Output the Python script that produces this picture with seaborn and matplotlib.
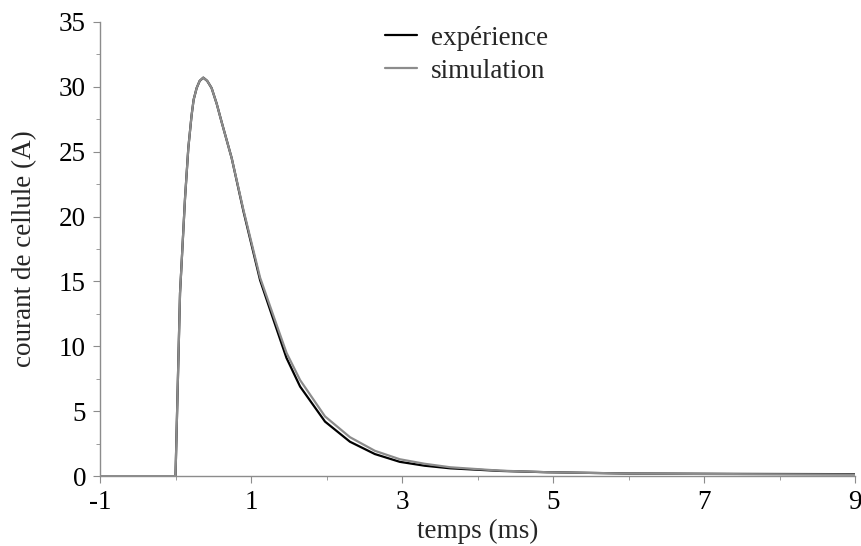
import pandas as pd
import numpy as np
import seaborn as sns
import matplotlib.pyplot as plt
from matplotlib.ticker import FixedLocator, MultipleLocator

# ----------------------------
# Data
# ----------------------------
temps = [-1, 0.0, 0.06, 0.126, 0.17, 0.213, 0.24, 0.28, 0.32, 0.368, 0.42, 0.478, 0.545, 0.61,
         0.744, 0.90, 1.12, 1.30, 1.47, 1.65, 1.98, 2.31, 2.64, 2.97, 3.3, 3.64, 4.3, 4.92,
         6.0, 7.5, 9.0]
experience = [0, 0.0, 14.1, 21.4, 25.3, 27.8, 29.0, 29.9, 30.45, 30.7, 30.45, 29.9, 28.7, 27.3,
              24.5, 20.4, 15.1, 12.0, 9.1, 6.9, 4.2, 2.65, 1.7, 1.1, 0.8, 0.6, 0.4, 0.3,
              0.2, 0.17, 0.15]
simulation = [0, 0.0, 14.1, 21.4, 25.3, 27.8, 29.0, 29.9, 30.45, 30.7, 30.45, 29.9, 28.7, 27.3,
              24.5, 20.5, 15.3, 12.3, 9.5, 7.4, 4.6, 3.0, 1.95, 1.3, 0.95, 0.68, 0.42, 0.3,
              0.2, 0.15, 0.12]

x_major = [-1, 1, 3, 5, 7, 9]
x_minor = [0, 2, 4, 6, 8]

df = pd.concat([
    pd.DataFrame({"temps": temps, "courant": experience, "serie": "expérience"}),
    pd.DataFrame({"temps": temps, "courant": simulation, "serie": "simulation"}),
])

# ----------------------------
# Plot
# ----------------------------
sns.set_style("ticks")
plt.rcParams["font.family"] = ["Liberation Serif", "DejaVu Serif"]
plt.rcParams["axes.unicode_minus"] = False
fs = 19.5

fig = plt.figure(figsize=(8.62, 5.46), dpi=100)
ax = fig.add_axes([0.116, 0.128, 0.876, 0.832])

sns.lineplot(data=df, x="temps", y="courant", hue="serie",
             palette={"expérience": "#000000", "simulation": "#8c8c8c"},
             linewidth=1.6, ax=ax)

ax.set_xlim(-1, 9)
ax.set_ylim(0, 35)
ax.xaxis.set_major_locator(FixedLocator(x_major))
ax.xaxis.set_minor_locator(FixedLocator(x_minor))
ax.yaxis.set_major_locator(MultipleLocator(5))
ax.yaxis.set_minor_locator(MultipleLocator(2.5))

for side in ["top", "right"]:
    ax.spines[side].set_visible(False)
for side in ["left", "bottom"]:
    ax.spines[side].set_color("#8c8c8c")
    ax.spines[side].set_linewidth(1.0)
ax.tick_params(which="major", length=5, color="#8c8c8c", labelsize=fs, labelcolor="black", pad=5)
ax.tick_params(which="minor", length=3, color="#8c8c8c")

ax.set_xlabel("temps (ms)", fontsize=fs, labelpad=3)
ax.set_ylabel("courant de cellule (A)", fontsize=fs, labelpad=16)

leg = ax.legend(loc="upper left", bbox_to_anchor=(0.345, 1.045), frameon=False,
                fontsize=fs, handlelength=1.2, handletextpad=0.5, labelspacing=0.3)

fig.savefig("out.png", dpi=100)
plt.close()
